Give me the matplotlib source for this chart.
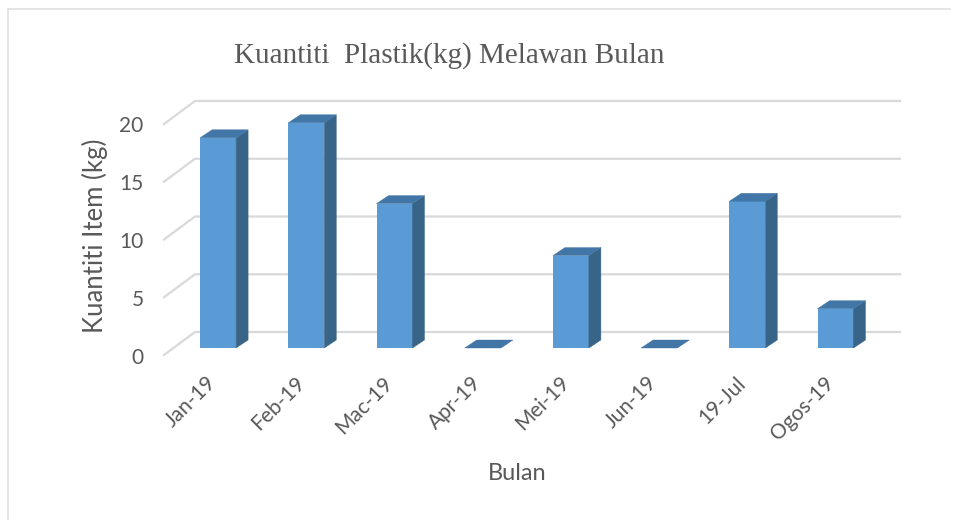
import matplotlib
matplotlib.use("Agg")
import matplotlib.pyplot as plt
from matplotlib.patches import Polygon
from matplotlib.lines import Line2D
from matplotlib.transforms import ScaledTranslation

months = ["Jan-19", "Feb-19", "Mac-19", "Apr-19", "Mei-19", "Jun-19", "19-Jul", "Ogos-19"]
values = [18.2, 19.5, 12.5, 0, 8.0, 0, 12.7, 3.4]
yticks = [0, 5, 10, 15, 20]
title = "Kuantiti  Plastik(kg) Melawan Bulan"
xlabel = "Bulan"
ylabel = "Kuantiti Item (kg)"

W, H = 956, 520
FRONT, SIDE, TOP = "#5B9BD5", "#386487", "#4276A6"
GRID, TXT = "#D9D9D9", "#595959"
SANS = "Lato"

fig = plt.figure(figsize=(W / 100, H / 100), dpi=100, facecolor="white")

# Chart frame
fig.add_artist(Line2D([8 / W, 8 / W], [0, 1 - 8.5 / H], color="#E0E0E0", lw=1.2))
fig.add_artist(Line2D([8 / W, 950 / W], [1 - 8.5 / H, 1 - 8.5 / H], color="#E0E0E0", lw=1.2))

# Axes: x category spacing 88.2 px, y scale 11.55 px per unit, zero at pixel 348
L, R, B, T = 174, 879.6, 348, 100
ax = fig.add_axes([L / W, 1 - B / H, (R - L) / W, (B - T) / H])
ax.set_xlim(-0.5, 7.5)
PXX = (R - L) / 8
PXY = 11.55
ax.set_ylim(0, (B - T) / PXY)
ax.patch.set_visible(False)
for s in ax.spines.values():
    s.set_visible(False)

ux = lambda p: p / PXX
uy = lambda p: p / PXY

# Wall gridlines with floor diagonal
for v in yticks:
    x0, x1, x2 = -0.5 + ux(164 - L), -0.5 + ux(195 - L), -0.5 + ux(900 - L)
    y0, y1 = v - uy(7), v + uy(16)
    ax.plot([x0, x1, x2], [y0, y1, y1], color=GRID, lw=1.6, clip_on=False,
            zorder=1, solid_joinstyle="miter")

# Bars
bw = 36 / PXX
dx, dy = ux(12), uy(8)
ax.bar(range(len(values)), values, width=bw, color=FRONT, zorder=3, linewidth=0)
for i, v in enumerate(values):
    l, r = i - bw / 2, i + bw / 2
    ax.add_patch(Polygon([(r, 0), (r + dx, dy), (r + dx, v + dy), (r, v)],
                         fc=SIDE, ec=SIDE, lw=0.3, zorder=3, clip_on=False))
    ax.add_patch(Polygon([(l, v), (r, v), (r + dx, v + dy), (l + dx, v + dy)],
                         fc=TOP, ec=TOP, lw=0.3, zorder=3, clip_on=False))

# Ticks
ax.set_xticks(range(len(months)))
ax.set_xticklabels(months, rotation=45, ha="right", va="top", rotation_mode="anchor",
                   fontsize=15, color=TXT, family=SANS)
ax.set_yticks(yticks)
ax.set_yticklabels([str(v) for v in yticks], fontsize=15, color=TXT, family=SANS)
ax.tick_params(axis="both", length=0)
ax.tick_params(axis="x", pad=16)
ax.tick_params(axis="y", pad=22)
px = 1 / 100  # one pixel in inches
for t in ax.xaxis.get_major_ticks():
    t.label1.set_transform(t.label1.get_transform() +
                           ScaledTranslation(-12 * px, -2.5 * px, fig.dpi_scale_trans))
for t in ax.yaxis.get_major_ticks():
    t.label1.set_transform(t.label1.get_transform() +
                           ScaledTranslation(0, -7.5 * px, fig.dpi_scale_trans))

# Text
fig.text(449.5 / W, 1 - 55.5 / H, title, family="Liberation Serif", fontsize=21,
         color=TXT, ha="center", va="center")
fig.text(517 / W, 1 - 474 / H, xlabel, family=SANS, fontsize=17, color=TXT,
         ha="center", va="center")
fig.text(95 / W, 1 - 236 / H, ylabel, family=SANS, fontsize=18.5, color=TXT,
         ha="center", va="center", rotation=90)

fig.savefig("out.png", dpi=100)
